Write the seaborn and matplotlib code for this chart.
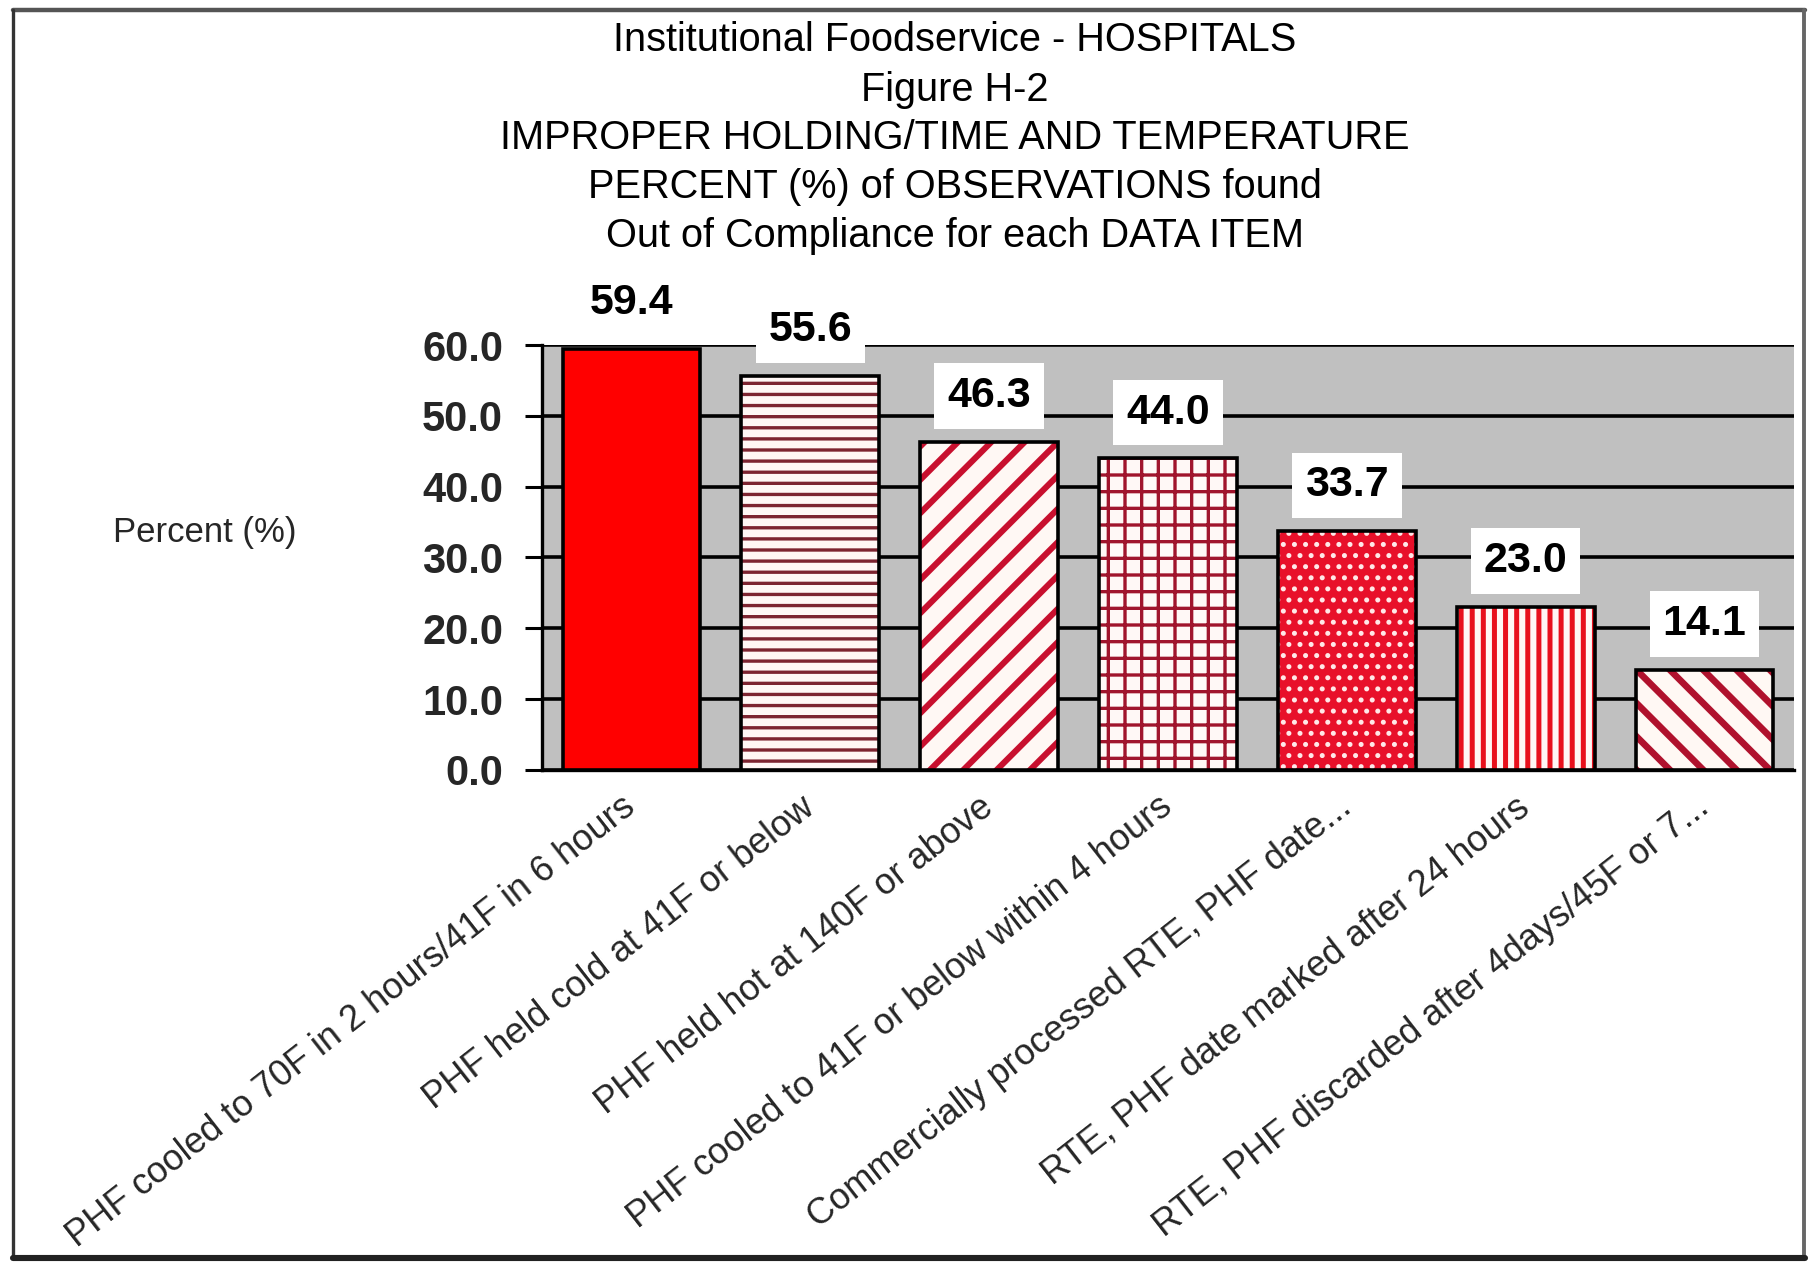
import matplotlib
matplotlib.use('Agg')
import matplotlib.pyplot as plt
import seaborn as sns
import pandas as pd
import numpy as np
from matplotlib.lines import Line2D

# Datos
items = ['PHF cooled to 70F in 2 hours/41F in 6 hours',
         'PHF held cold at 41F or below',
         'PHF held hot at 140F or above',
         'PHF cooled to 41F or below within 4 hours',
         'Commercially processed RTE, PHF date...',
         'RTE, PHF date marked after 24 hours',
         'RTE, PHF discarded after 4days/45F or 7...']
percent = [59.4, 55.6, 46.3, 44.0, 33.7, 23.0, 14.1]
y_ticks = [0, 10, 20, 30, 40, 50, 60]

title_lines = ['Institutional Foodservice - HOSPITALS',
               'Figure H-2',
               'IMPROPER HOLDING/TIME AND TEMPERATURE',
               'PERCENT (%) of OBSERVATIONS found',
               'Out of Compliance for each DATA ITEM']

# estilo de cada barra: relleno, trama, color de trama, grosor de trama
faces = ['#ff0000', '#fff6f4', '#fff8f4', '#fff8f6', '#e8102a', '#fff6f4', '#fff8f4']
hatches = [None, '---', '//', '++', '...', '|||', '\\\\']
hatch_colors = ['#ff0000', '#7d2430', '#c8102e', '#a0142c', '#ffe8e8', '#e8101c', '#b0122e']
hatch_widths = [1.0, 1.2, 2.2, 1.2, 1.0, 1.8, 2.4]

df = pd.DataFrame({'item': items, 'pct': percent})

sns.set_style('white')
plt.rcParams['font.family'] = ['Liberation Sans', 'DejaVu Sans']
plt.rcParams['hatch.linewidth'] = 1.6

fig = plt.figure(figsize=(18.09 / 2, 12.62 / 2), dpi=200)
ax = fig.add_axes([0.2996, 0.3899, 0.6921, 0.3367])
ax.set_facecolor('#c0c0c0')

# capa con trama
sns.barplot(data=df, x='item', y='pct', color='white', width=0.77, saturation=1,
            ax=ax, zorder=3, errorbar=None)
for p, fc, h, hc, hw in zip(ax.patches, faces, hatches, hatch_colors, hatch_widths):
    p.set_facecolor(fc)
    p.set_edgecolor(hc)
    p.set_linewidth(0)
    if h:
        p.set_hatch(h)
    if hasattr(p, 'set_hatch_linewidth'):
        p.set_hatch_linewidth(hw)

# contorno negro
sns.barplot(data=df, x='item', y='pct', color='black', width=0.77, fill=False,
            linewidth=1.3, ax=ax, zorder=4, errorbar=None)

# etiquetas de valor
for i, v in enumerate(percent):
    ax.annotate('%.1f' % v, xy=(i, v), xytext=(0, 16.5), textcoords='offset points',
                ha='center', va='center', fontsize=15.5, fontweight='bold',
                color='black', annotation_clip=False, zorder=6,
                bbox=dict(boxstyle='square,pad=0.3', fc='white', ec='none'))

ax.set_ylim(0, 60)
ax.set_xlim(-0.5, len(items) - 0.5)
ax.set_yticks(y_ticks)
ax.set_yticklabels(['%.1f' % t for t in y_ticks], fontsize=15, fontweight='bold')
ax.yaxis.grid(True, color='black', linewidth=1.3)
ax.set_axisbelow(True)

ax.set_xticks(range(len(items)))
ax.set_xticklabels(items, rotation=38, ha='right', va='center',
                   rotation_mode='anchor', fontsize=13)
ax.set_xticks(np.arange(-0.5, len(items)), minor=True)
ax.tick_params(axis='x', which='major', length=0, pad=12)
ax.tick_params(axis='x', which='minor', length=5.5, width=1.1, direction='out', color='black')
ax.tick_params(axis='y', length=6, width=1.1, direction='out', pad=8, color='black', left=True)

for s in ['top', 'right']:
    ax.spines[s].set_visible(False)
for s in ['left', 'bottom']:
    ax.spines[s].set_color('black')
    ax.spines[s].set_linewidth(1.2)

ax.set_xlabel('')
ax.set_ylabel('Percent (%)', rotation=0, fontsize=12.5, ha='center', va='center')
ax.yaxis.set_label_coords(-0.269, 0.558)

# titulo
title_y = [0.968, 0.929, 0.891, 0.852, 0.813]
for t, y in zip(title_lines, title_y):
    fig.text(0.528, y, t, ha='center', va='center', fontsize=14.3, color='black')

# marco de la figura
fig.add_artist(Line2D([0.007, 0.998], [0.992, 0.992], color='#555555', lw=1.6, transform=fig.transFigure))
fig.add_artist(Line2D([0.0072, 0.0072], [0.003, 0.992], color='#333333', lw=1.2, transform=fig.transFigure))
fig.add_artist(Line2D([0.9975, 0.9975], [0.003, 0.992], color='#666666', lw=1.4, transform=fig.transFigure))
fig.add_artist(Line2D([0.007, 0.998], [0.003, 0.003], color='#222222', lw=2.2, transform=fig.transFigure))

fig.savefig('out.png', dpi=200, facecolor='white')
